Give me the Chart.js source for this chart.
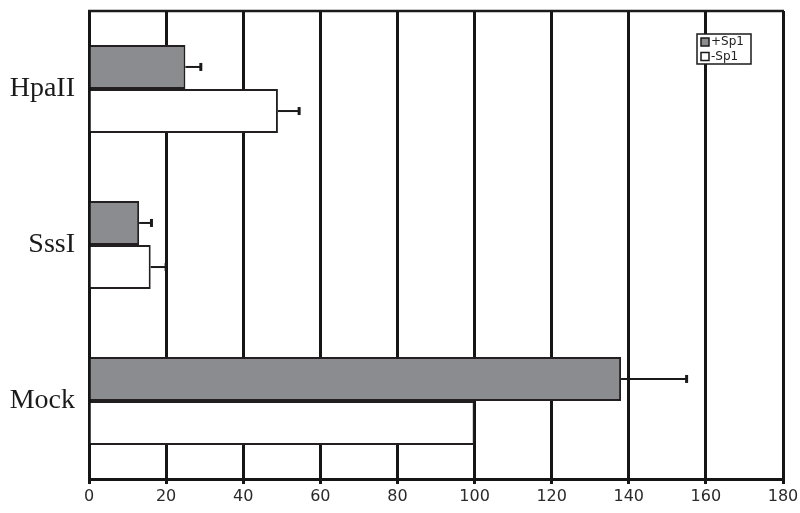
<!DOCTYPE html>
<html>
<head>
<meta charset="utf-8">
<script src="https://cdn.jsdelivr.net/npm/chart.js@4.4.0/dist/chart.umd.min.js"></script>
<style>
  html, body { margin: 0; padding: 0; background: #fff; }
  #wrap { width: 800px; height: 513px; }
</style>
</head>
<body>
<div id="wrap"><canvas id="c" width="800" height="513"></canvas></div>
<script>
const categories = ['HpaII', 'SssI', 'Mock'];
const seriesLabels = ['+Sp1', '-Sp1'];
const plusSp1 = [25, 13, 138];
const minusSp1 = [49, 16, 100];
const plusSp1Err = [4, 3.2, 17];
const minusSp1Err = [5.5, 4, 0];
const xTicks = [0, 20, 40, 60, 80, 100, 120, 140, 160, 180];

const errorBars = {
  id: 'errorBars',
  afterDatasetsDraw(chart) {
    const ctx = chart.ctx;
    const xs = chart.scales.x;
    const errs = [plusSp1Err, minusSp1Err];
    ctx.save();
    ctx.strokeStyle = '#1a1a1a';
    chart.data.datasets.forEach((ds, di) => {
      const meta = chart.getDatasetMeta(di);
      meta.data.forEach((bar, i) => {
        const e = errs[di][i];
        if (!e) return;
        const x0 = xs.getPixelForValue(ds.data[i]);
        const x1 = xs.getPixelForValue(ds.data[i] + e);
        const y = bar.y;
        ctx.lineWidth = 2;
        ctx.beginPath();
        ctx.moveTo(x0, y);
        ctx.lineTo(x1, y);
        ctx.stroke();
        ctx.lineWidth = 3;
        ctx.beginPath();
        ctx.moveTo(x1, y - 4);
        ctx.lineTo(x1, y + 4);
        ctx.stroke();
      });
    });
    ctx.restore();
  }
};

const frameAndLegend = {
  id: 'frameAndLegend',
  afterDraw(chart) {
    const ctx = chart.ctx;
    const a = chart.chartArea;
    ctx.save();
    ctx.strokeStyle = '#1a1a1a';
    ctx.lineWidth = 2.5;
    ctx.beginPath();
    ctx.moveTo(a.left - 1, a.top);
    ctx.lineTo(a.right + 1, a.top);
    ctx.stroke();
    // legend box
    const lx = 697, ly = 34, lw = 54, lh = 30;
    ctx.fillStyle = '#fff';
    ctx.fillRect(lx, ly, lw, lh);
    ctx.lineWidth = 1.5;
    ctx.strokeRect(lx, ly, lw, lh);
    ctx.font = '12px "DejaVu Sans"';
    ctx.textBaseline = 'middle';
    chart.data.datasets.forEach((ds, i) => {
      const cy = ly + 8 + i * 14.5;
      ctx.fillStyle = ds.backgroundColor;
      ctx.fillRect(lx + 4, cy - 4, 8, 8);
      ctx.lineWidth = 1.5;
      ctx.strokeStyle = '#1a1a1a';
      ctx.strokeRect(lx + 4, cy - 4, 8, 8);
      ctx.fillStyle = '#222';
      ctx.fillText(ds.label, lx + 14, cy);
    });
    ctx.restore();
  }
};

new Chart(document.getElementById('c'), {
  type: 'bar',
  data: {
    labels: categories,
    datasets: [
      { label: seriesLabels[0], data: plusSp1, backgroundColor: '#8b8c8f', borderColor: '#231f20', borderWidth: 2 },
      { label: seriesLabels[1], data: minusSp1, backgroundColor: '#ffffff', borderColor: '#231f20', borderWidth: 2 }
    ]
  },
  options: {
    indexAxis: 'y',
    responsive: false,
    animation: false,
    devicePixelRatio: 1,
    layout: { padding: { top: 11, right: 17, left: 0, bottom: 0 } },
    datasets: { bar: { categoryPercentage: 0.565, barPercentage: 1.0 } },
    plugins: { legend: { display: false }, tooltip: { enabled: false } },
    scales: {
      x: {
        type: 'linear',
        min: 0, max: 180,
        afterBuildTicks(scale) { scale.ticks = xTicks.map(v => ({ value: v })); },
        afterFit(scale) { scale.height = 34; scale.paddingLeft = 0; scale.paddingRight = 0; },
        grid: { color: '#151515', lineWidth: 3, tickLength: 5, drawOnChartArea: true },
        border: { color: '#151515', width: 3 },
        ticks: { color: '#2a2a2a', font: { family: 'DejaVu Sans', size: 16 }, padding: 3, maxRotation: 0 }
      },
      y: {
        type: 'category',
        afterFit(scale) { scale.width = 89; scale.paddingTop = 0; scale.paddingBottom = 0; },
        grid: { display: false },
        border: { color: '#151515', width: 3 },
        ticks: { color: '#1a1a1a', font: { family: 'Liberation Serif', size: 28 }, padding: 6 }
      }
    }
  },
  plugins: [errorBars, frameAndLegend]
});
</script>
</body>
</html>
